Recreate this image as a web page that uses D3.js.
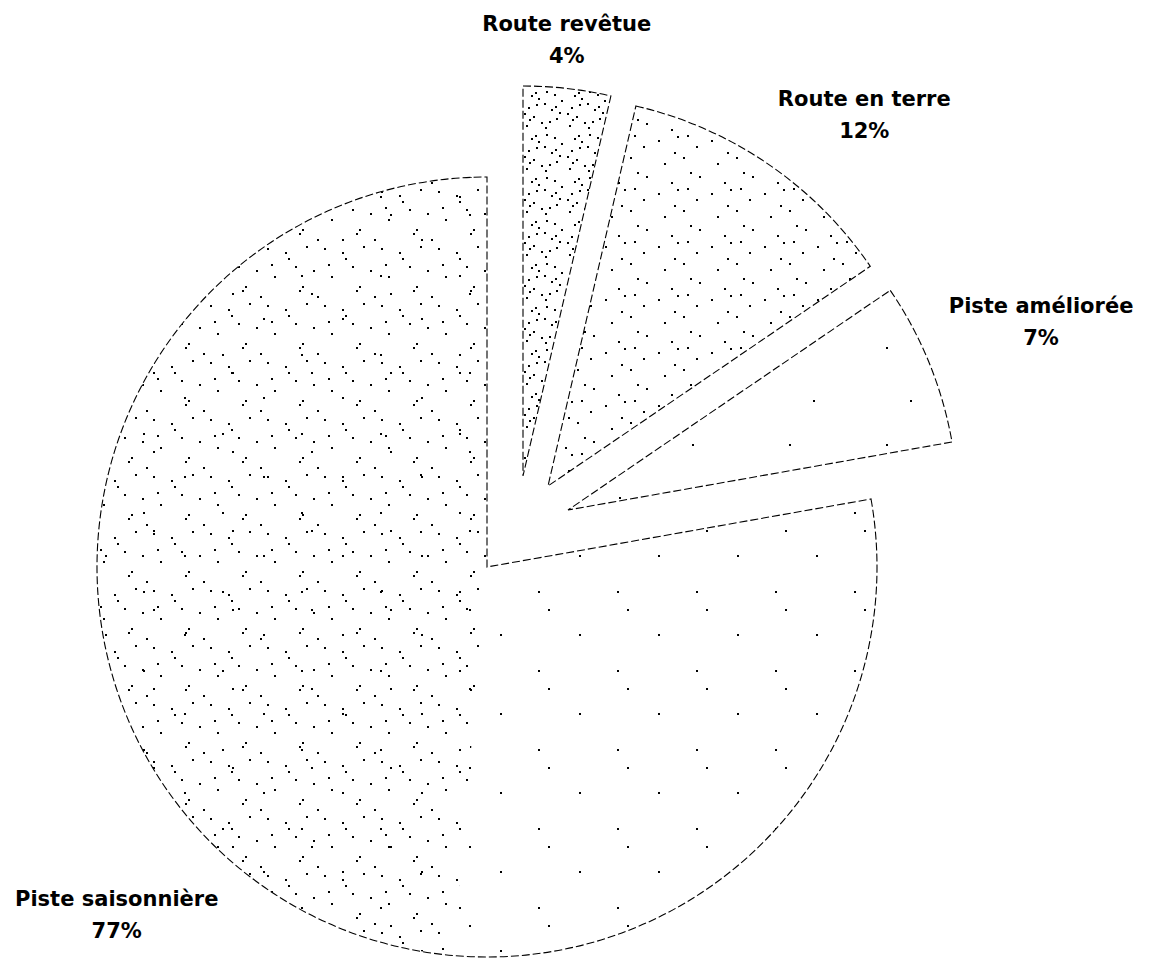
<!DOCTYPE html>
<html><head><meta charset="utf-8">
<script src="https://cdn.jsdelivr.net/npm/d3@7"></script>
<style>html,body{margin:0;padding:0;background:#fff}</style>
</head><body>
<svg id="chart" width="1154" height="961"></svg>
<script>
// ---- data ----
const categories = ["Route revêtue", "Route en terre", "Piste améliorée", "Piste saisonnière"];
const values = [3.6, 11.8, 6.7, 77.4];

// ---- layout / style ----
const W = 1154, H = 961;
const cx = 517, cy = 531, R = 390;
const explode = [55, 55, 55, 47];
const patternIds = ["dense", "medium", "vsparse", "sparse"];
const labelRadius = 500;
const labelNudge = [[-7, -3], [65, -12], [61, -29], [-79, -8]];
const lineGap = 32;

const svg = d3.select("#chart");
svg.append("rect").attr("width", W).attr("height", H).attr("fill", "#fff");

// stipple textures (deterministic quasi-random scatter in a tile)
function halton(i, b) { let f = 1, r = 0; while (i > 0) { f /= b; r += f * (i % b); i = Math.floor(i / b); } return r; }
const defs = svg.append("defs");
const patSpecs = [
  { id: "dense", tile: 43, n: 20, off: 1 },
  { id: "medium", tile: 53, n: 10, off: 37 },
  { id: "leftdense", tile: 57, n: 11, off: 91 },
  { id: "sparse", tile: 79, n: 3, off: 211 },
  { id: "vsparse", tile: 97, n: 2, off: 401 }
];
patSpecs.forEach(p => {
  const pat = defs.append("pattern").attr("id", p.id)
    .attr("patternUnits", "userSpaceOnUse").attr("width", p.tile).attr("height", p.tile);
  pat.selectAll("rect").data(d3.range(p.n)).join("rect")
    .attr("x", i => Math.round(halton(i + p.off, 2) * (p.tile - 2)))
    .attr("y", i => Math.round(halton(i + p.off, 3) * (p.tile - 2)))
    .attr("width", 1.5).attr("height", 1.5).attr("fill", "#000")
    .attr("shape-rendering", "crispEdges");
});

const pie = d3.pie().sort(null).value(d => d);
const arcs = pie(values);
const arc = d3.arc().innerRadius(0).outerRadius(R);

const g = svg.append("g").attr("transform", `translate(${cx},${cy})`);

arcs.forEach((a, i) => {
  const mid = (a.startAngle + a.endAngle) / 2;
  const dx = Math.round(explode[i] * Math.sin(mid)), dy = Math.round(-explode[i] * Math.cos(mid));
  const sg = g.append("g").attr("transform", `translate(${dx},${dy})`);
  sg.append("path").attr("d", arc(a)).attr("fill", `url(#${patternIds[i]})`).attr("stroke", "none");
  if (i === 3) {
    // denser stipple on the left half of the large slice
    sg.append("path")
      .attr("d", arc({ startAngle: Math.max(a.startAngle, Math.PI * 185 / 180), endAngle: a.endAngle }))
      .attr("fill", "url(#leftdense)").attr("stroke", "none");
  }
  sg.append("path").attr("d", arc(a)).attr("fill", "none")
    .attr("stroke", "#000").attr("stroke-width", 1.1).attr("stroke-dasharray", "8,3");

  // labels
  const lx = labelRadius * Math.sin(mid) + labelNudge[i][0];
  const ly = -labelRadius * Math.cos(mid) + labelNudge[i][1];
  const t = g.append("text").attr("text-anchor", "middle")
    .attr("font-family", "'DejaVu Sans', sans-serif").attr("font-weight", "bold")
    .attr("font-size", 21).attr("fill", "#000");
  t.append("tspan").attr("x", lx).attr("y", ly).text(categories[i]);
  t.append("tspan").attr("x", lx).attr("y", ly + lineGap).text(Math.round(values[i]) + "%");
});
</script>
</body></html>
